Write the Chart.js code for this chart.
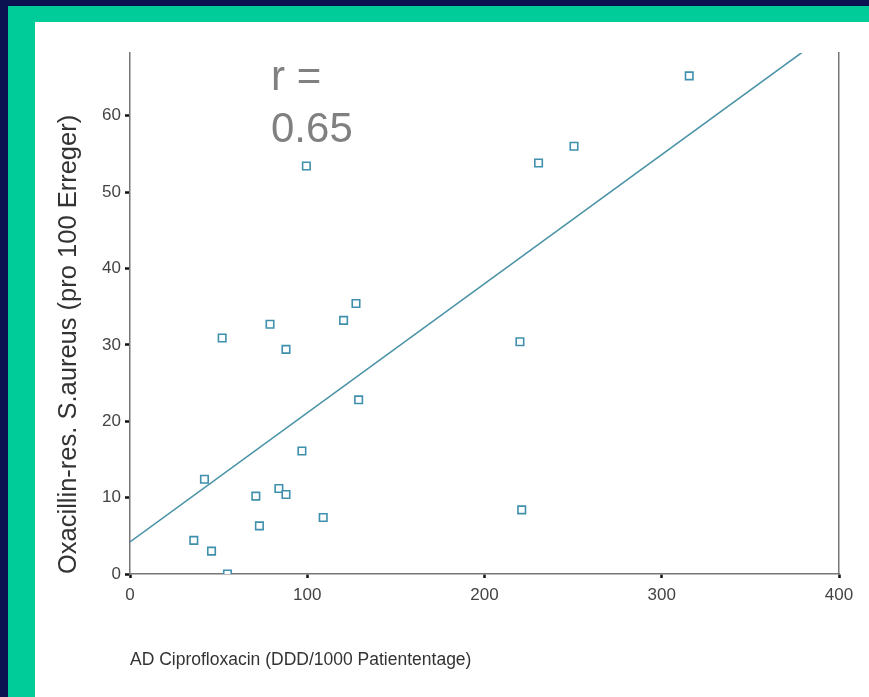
<!DOCTYPE html>
<html>
<head>
<meta charset="utf-8">
<script src="https://cdn.jsdelivr.net/npm/chart.js@4"></script>
<style>
  body { margin: 0; background: #0b1450; width: 869px; height: 697px; overflow: hidden; }
  .frame { position: absolute; left: 8px; top: 6px; right: 0; bottom: 0; background: #00cc99; }
  .panel { position: absolute; left: 35px; top: 22px; width: 834px; height: 675px; background: #fff; }
  canvas { display: block; }
</style>
</head>
<body>
<div class="frame"></div>
<div class="panel">
  <canvas id="scatter" width="834" height="675"></canvas>
</div>
<script>
// AD Ciprofloxacin vs Oxacillin-res. S.aureus
const cipro = [36, 46, 55, 42, 71, 73, 84, 88, 109, 97, 52, 79, 88, 120.5, 127.5, 129, 99.5, 220, 221, 230.5, 250.5, 315.5];
const oxa   = [4.4, 3.0, 0, 12.4, 10.2, 6.3, 11.2, 10.4, 7.4, 16.1, 30.9, 32.7, 29.4, 33.2, 35.4, 22.8, 53.4, 30.4, 8.4, 53.8, 56.0, 65.2];

// regression line end points
const fitX = [0, 400];
const fitY = [4.2, 71.8];

const xTicks = [0, 100, 200, 300, 400];
const yTicks = [0, 10, 20, 30, 40, 50, 60];

const rLabel = ["r =", "0.65"];

const pts = cipro.map((x, i) => ({ x: x, y: oxa[i] }));
const fit = fitX.map((x, i) => ({ x: x, y: fitY[i] }));

// "r = 0.65" text
const rText = {
  id: "rText",
  afterDatasetsDraw(chart) {
    const ctx = chart.ctx;
    const a = chart.chartArea;
    ctx.save();
    ctx.fillStyle = "#808080";
    ctx.font = "42px 'Liberation Sans', Arial, sans-serif";
    ctx.textBaseline = "alphabetic";
    ctx.fillText(rLabel[0], a.left + 141, a.top + 37);
    ctx.fillText(rLabel[1], a.left + 141, a.top + 89);
    ctx.restore();
  }
};

const tickFont = { family: "'Liberation Sans', Arial, sans-serif", size: 17 };

const chart = new Chart("scatter", {
  type: "scatter",
  data: {
    datasets: [
      {
        label: "Werte",
        data: pts,
        pointStyle: "rect",
        pointRadius: 5.3,
        borderColor: "#3f90ad",
        backgroundColor: "#ffffff",
        borderWidth: 1.6,
      },
      {
        type: "line",
        label: "Regression",
        data: fit,
        borderColor: "#4a93a6",
        borderWidth: 1.6,
        pointRadius: 0,
        fill: false,
      },
    ],
  },
  options: {
    responsive: false,
    animation: false,
    layout: { padding: { top: 31, right: 30, left: 0, bottom: 0 } },
    plugins: { legend: { display: false }, tooltip: { enabled: false } },
    scales: {
      x: {
        type: "linear",
        min: 0,
        max: 400,
        afterBuildTicks: (s) => { s.ticks = xTicks.map(v => ({ value: v })); },
        afterFit: (s) => { s.height = 123; },
        ticks: { font: tickFont, color: "#444", padding: 7 },
        grid: { drawOnChartArea: false, tickLength: 4, tickWidth: 2.5, tickColor: "#111" },
        border: { color: "#777", width: 1.5 },
        title: {
          display: true,
          text: "AD Ciprofloxacin (DDD/1000 Patiententage)",
          align: "start",
          color: "#333",
          font: { family: "'Liberation Sans', Arial, sans-serif", size: 17.5 },
          padding: { top: 0, bottom: 26 },
        },
      },
      y: {
        type: "linear",
        min: 0,
        max: 68.2,
        afterBuildTicks: (s) => { s.ticks = yTicks.map(v => ({ value: v })); },
        afterFit: (s) => { s.width = 95; },
        ticks: { font: tickFont, color: "#444", padding: 4 },
        grid: { drawOnChartArea: false, tickLength: 5, tickWidth: 2.5, tickColor: "#111" },
        border: { color: "#777", width: 1.5 },
        title: {
          display: true,
          text: "Oxacillin-res. S.aureus (pro 100 Erreger)",
          align: "start",
          color: "#333",
          font: { family: "'Liberation Sans', Arial, sans-serif", size: 25.5 },
          padding: { top: 19, bottom: 0 },
        },
      },
      y2: {
        position: "right",
        min: 0,
        max: 68.2,
        ticks: { display: false },
        grid: { display: false },
        border: { color: "#777", width: 1.5 },
        afterFit: (s) => { s.width = 0; },
      },
    },
  },
  plugins: [rText],
});
</script>
</body>
</html>
